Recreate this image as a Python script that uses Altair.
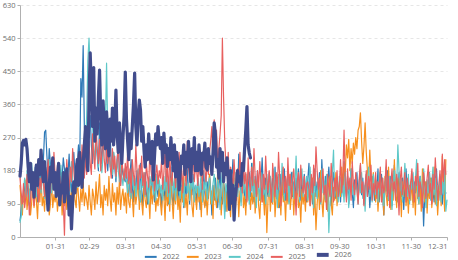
import altair as alt
import pandas as pd

years = ["2022", "2023", "2024", "2025", "2026"]
colors = ["#2f7ab8", "#f7901e", "#5ec8c8", "#e8605f", "#414c8c"]
widths = [1.2, 1.2, 1.2, 1.2, 3.2]

tick_days = [31, 60, 91, 121, 152, 182, 213, 244, 274, 305, 335, 366]
tick_labels = ["01-31", "02-29", "03-31", "04-30", "05-31", "06-30",
               "07-31", "08-31", "09-30", "10-31", "11-30", "12-31"]
y_ticks = [0, 90, 180, 270, 360, 450, 540, 630]

# daily counts, one line per month
y2022 = [
    45, 70, 110, 95, 140, 120, 160, 105, 85, 130, 175, 150, 110, 190, 140, 95, 160, 200, 130, 180, 210, 285, 290, 220, 170, 240, 200, 150, 210, 180, 160,
    120, 175, 200, 140, 95, 160, 215, 185, 130, 100, 170, 225, 150, 120, 195, 230, 170, 140, 205, 250, 190, 430, 380, 520, 300, 260, 220, 240,
    280, 330, 250, 200, 300, 350, 260, 220, 180, 310, 240, 200, 290, 330, 260, 210, 180, 240, 290, 200, 160, 230, 190, 150, 210, 250, 180, 140, 200, 170, 160,
    150, 190, 130, 110, 170, 210, 140, 95, 160, 120, 180, 145, 100, 200, 130, 85, 150, 175, 120, 90, 160, 140, 105, 180, 125, 95, 170, 130, 110, 150,
    120, 80, 160, 135, 100, 175, 140, 90, 130, 190, 110, 85, 150, 120, 170, 100, 140, 95, 165, 125, 80, 145, 110, 185, 130, 90, 150, 115, 170, 105, 140,
    95, 160, 130, 75, 145, 110, 180, 120, 85, 150, 105, 170, 130, 60, 140, 100, 160, 115, 80, 135, 175, 110, 90, 150, 125, 70, 140, 105, 165, 120,
    150, 210, 130, 95, 170, 120, 225, 160, 100, 140, 190, 115, 85, 155, 130, 175, 110, 200, 140, 95, 165, 120, 180, 135, 100, 150, 215, 125, 90, 160, 130,
    110, 175, 140, 95, 160, 125, 190, 105, 150, 130, 80, 170, 140, 115, 185, 100, 145, 165, 95, 130, 175, 110, 150, 90, 160, 125, 185, 140, 100, 155, 120,
    170, 130, 95, 155, 200, 120, 160, 90, 140, 185, 110, 150, 125, 175, 95, 210, 140, 115, 165, 100, 150, 190, 120, 85, 145, 175, 130, 105, 160, 120,
    140, 95, 170, 125, 205, 150, 110, 165, 90, 140, 185, 120, 80, 155, 130, 175, 100, 145, 195, 115, 160, 90, 135, 170, 110, 150, 80, 125, 165, 140, 100,
    155, 120, 185, 95, 140, 170, 110, 60, 150, 125, 180, 100, 140, 165, 85, 130, 195, 120, 150, 95, 175, 130, 110, 160, 75, 140, 185, 115, 150, 100,
    130, 170, 95, 150, 120, 185, 105, 140, 165, 90, 135, 30, 115, 150, 80, 140, 175, 105, 160, 125, 95, 150, 185, 120, 100, 165, 130, 90, 145, 110, 120,
]

y2023 = [
    140, 100, 60, 120, 90, 155, 75, 110, 130, 60, 95, 145, 80, 120, 100, 50, 130, 95, 160, 85, 110, 70, 140, 100, 125, 60, 90, 150, 80, 115, 95,
    130, 70, 105, 90, 145, 60, 115, 85, 135, 75, 100, 155, 90, 120, 65, 140, 100, 80, 160, 110, 70, 130, 95, 150, 85, 120, 100, 75,
    140, 95, 60, 130, 110, 75, 150, 90, 125, 170, 80, 115, 60, 140, 100, 130, 85, 165, 105, 70, 145, 95, 120, 60, 135, 90, 155, 75, 110, 130, 85,
    120, 65, 150, 95, 80, 135, 105, 55, 140, 90, 115, 165, 75, 125, 95, 60, 145, 100, 80, 130, 110, 50, 140, 90, 120, 155, 70, 105, 85, 135,
    95, 60, 130, 110, 45, 140, 85, 120, 70, 160, 100, 50, 125, 90, 145, 75, 110, 40, 135, 95, 165, 80, 115, 60, 140, 100, 205, 85, 55, 130, 105,
    75, 140, 95, 120, 55, 150, 100, 80, 130, 60, 115, 170, 90, 125, 50, 140, 105, 80, 185, 95, 130, 60, 110, 150, 85, 120, 70, 145, 95, 55,
    130, 90, 160, 70, 115, 140, 55, 125, 95, 175, 80, 110, 60, 145, 100, 130, 75, 120, 90, 155, 65, 105, 140, 85, 50, 130, 95, 115, 60, 140, 12,
    100, 145, 70, 120, 90, 160, 55, 110, 135, 80, 125, 60, 150, 95, 115, 45, 130, 90, 170, 75, 110, 140, 60, 125, 95, 150, 80, 105, 40, 130, 90,
    115, 70, 145, 95, 130, 85, 110, 160, 60, 120, 20, 90, 140, 75, 180, 100, 55, 130, 95, 150, 70, 120, 165, 90, 60, 135, 100, 175, 85, 120,
    150, 110, 190, 140, 200, 170, 250, 215, 265, 180, 240, 200, 255, 225, 270, 240, 290, 300, 337, 260, 200, 245, 310, 230, 180, 140, 236, 160, 110, 175, 130,
    95, 150, 70, 125, 180, 100, 140, 60, 165, 115, 85, 190, 130, 75, 145, 100, 210, 120, 80, 160, 95, 135, 55, 150, 110, 175, 85, 125, 65, 140,
    100, 155, 80, 130, 60, 170, 110, 90, 145, 70, 185, 120, 95, 150, 65, 135, 105, 160, 80, 120, 190, 90, 140, 60, 115, 150, 85, 220, 130, 70, 210,
]

y2024 = [
    40, 55, 90, 130, 160, 110, 180, 140, 95, 165, 200, 125, 150, 180, 110, 145, 200, 160, 120, 175, 140, 105, 190, 150, 130, 210, 170, 120, 185, 145, 160,
    130, 175, 110, 150, 195, 140, 115, 170, 125, 185, 140, 100, 160, 205, 150, 120, 175, 190, 135, 160, 215, 180, 150, 200, 170, 240, 330, 480, 540,
    450, 360, 300, 250, 210, 260, 230, 190, 240, 200, 175, 220, 260, 310, 472, 280, 230, 190, 210, 170, 230, 195, 160, 210, 180, 150, 200, 165, 140, 185, 160,
    150, 120, 175, 140, 105, 190, 130, 165, 110, 145, 185, 120, 95, 160, 135, 175, 110, 150, 125, 90, 165, 140, 180, 115, 150, 100, 170, 130, 155, 120,
    140, 100, 165, 125, 185, 110, 150, 90, 135, 175, 120, 160, 100, 145, 190, 130, 105, 160, 140, 85, 150, 175, 120, 145, 100, 165, 130, 155, 95, 140, 120,
    160, 110, 140, 180, 95, 150, 125, 170, 100, 135, 160, 115, 90, 145, 170, 120, 100, 155, 130, 75, 140, 180, 110, 50, 145, 125, 165, 90, 140, 115,
    150, 95, 175, 130, 110, 160, 140, 85, 190, 120, 150, 105, 170, 135, 90, 160, 125, 200, 110, 145, 80, 165, 130, 100, 175, 140, 115, 155, 90, 170, 130,
    110, 165, 140, 95, 185, 125, 150, 80, 170, 135, 110, 200, 145, 100, 160, 125, 180, 90, 150, 130, 175, 105, 140, 220, 120, 160, 95, 145, 185, 110, 150,
    125, 165, 100, 150, 190, 115, 140, 80, 175, 130, 105, 160, 140, 90, 185, 120, 150, 100, 170, 135, 12, 95, 130, 175, 236, 110, 150, 140, 95, 165,
    160, 110, 140, 95, 175, 125, 150, 80, 135, 185, 115, 145, 100, 165, 130, 90, 155, 120, 175, 105, 140, 70, 160, 125, 190, 110, 145, 95, 170, 130, 115,
    150, 95, 175, 130, 110, 160, 85, 140, 190, 120, 100, 165, 135, 75, 150, 180, 115, 140, 250, 180, 125, 160, 95, 145, 200, 130, 110, 170, 90, 150,
    130, 175, 100, 150, 210, 120, 90, 165, 140, 110, 185, 135, 80, 155, 120, 175, 100, 145, 190, 115, 160, 85, 140, 125, 170, 95, 150, 115, 185, 70, 100,
]

y2025 = [
    160, 120, 90, 145, 80, 110, 170, 130, 60, 100, 150, 115, 85, 140, 190, 120, 95, 160, 130, 200, 150, 110, 175, 135, 210, 160, 120, 185, 145, 230, 170,
    140, 195, 120, 165, 110, 150, 95, 5, 140, 210, 160, 125, 190, 150, 240, 180, 135, 200, 160, 225, 175, 145, 250, 190, 160, 215, 170, 230,
    260, 200, 170, 280, 220, 185, 300, 240, 200, 265, 180, 230, 290, 210, 175, 250, 200, 270, 195, 160, 240, 185, 220, 165, 205, 250, 175, 140, 210, 180, 155,
    200, 160, 230, 145, 185, 120, 210, 170, 140, 250, 180, 130, 195, 160, 220, 140, 175, 115, 200, 165, 135, 240, 180, 150, 205, 125, 170, 195, 145, 180,
    160, 210, 130, 175, 240, 150, 190, 120, 220, 165, 140, 250, 180, 135, 200, 160, 230, 145, 185, 120, 215, 175, 140, 260, 190, 155, 210, 170, 235, 150, 195,
    180, 140, 220, 165, 200, 130, 245, 185, 150, 210, 170, 230, 260, 300, 220, 318, 250, 290, 200, 240, 280, 330, 540, 380, 260, 200, 165, 230, 140, 190,
    170, 130, 210, 150, 100, 185, 135, 230, 160, 120, 200, 145, 175, 95, 215, 150, 125, 190, 140, 240, 165, 110, 180, 135, 205, 150, 95, 170, 130, 220, 155,
    120, 180, 140, 95, 200, 150, 110, 175, 130, 230, 160, 85, 145, 190, 120, 165, 100, 215, 140, 170, 105, 155, 185, 125, 60, 150, 175, 110, 195, 140, 120,
    165, 100, 145, 150, 130, 85, 170, 120, 195, 140, 245, 180, 130, 160, 95, 150, 185, 115, 140, 75, 170, 130, 110, 200, 145, 95, 160, 125, 180, 110,
    140, 210, 120, 170, 290, 150, 95, 185, 130, 160, 100, 205, 145, 115, 175, 130, 90, 160, 200, 120, 150, 85, 140, 180, 110, 165, 130, 195, 100, 145, 120,
    175, 105, 150, 130, 190, 95, 160, 120, 140, 210, 110, 165, 80, 145, 185, 125, 150, 100, 170, 135, 60, 155, 190, 115, 140, 175, 95, 160, 130, 105,
    150, 185, 120, 95, 165, 140, 200, 110, 150, 130, 80, 175, 140, 105, 160, 195, 120, 145, 90, 170, 130, 215, 155, 100, 140, 180, 115, 225, 150, 210, 170,
]

y2026 = [
    165, 200, 255, 262, 250, 265, 240, 190, 150, 200, 130, 175, 108, 160, 195, 140, 210, 170, 236, 180, 150, 205, 165, 120, 73, 140, 190, 150, 215, 130, 175,
    110, 160, 200, 87, 140, 120, 175, 95, 150, 185, 130, 60, 110, 22, 95, 150, 120, 180, 210, 140, 230, 175, 135, 200, 250, 300, 220, 180,
    380, 500, 400, 300, 460, 260, 350, 280, 380, 453, 330, 250, 370, 300, 240, 340, 280, 220, 320, 260, 350, 250, 300, 399, 280, 230, 310, 250, 200, 270, 330,
    448, 320, 260, 210, 280, 240, 300, 360, 445, 300, 250, 330, 372, 345, 260, 300, 236, 190, 250, 210, 280, 230, 200, 260, 155, 220, 280, 250, 300, 260,
    240, 270, 200, 282, 230, 250, 191, 240, 210, 270, 218, 180, 250, 163, 230, 200, 128, 180, 220, 200, 250, 170, 230, 190, 260, 210, 150, 240, 200, 270, 180,
    230, 180, 250, 200, 170, 228, 210, 255, 190, 182, 240, 200, 217, 170, 230, 310, 280, 190, 210, 160, 240, 180, 230, 150, 200, 170, 215, 155, 75, 180,
    92, 140, 46, 110, 136, 180, 150, 163, 140, 200, 180, 240, 290, 354, 250, 228, 215,
]

rows = []
for yr, w, vals in zip(years, widths, [y2022, y2023, y2024, y2025, y2026]):
    for i, v in enumerate(vals):
        rows.append({"day": i + 1, "value": v, "year": yr, "w": w})
df = pd.DataFrame(rows)

label_expr = (
    "[" + ",".join(f"'{s}'" for s in tick_labels) + "]"
    + "[indexof([" + ",".join(str(d) for d in tick_days) + "], datum.value)]"
)

FONT = "Open Sans"
GREY = "#6e6e6e"

chart = (
    alt.Chart(df)
    .mark_line(strokeJoin="round", strokeCap="round")
    .encode(
        x=alt.X(
            "day:Q",
            scale=alt.Scale(domain=[1, 366], nice=False, zero=False),
            axis=alt.Axis(
                values=tick_days, labelExpr=label_expr, title=None, grid=False,
                domainColor="#b0b0b0", tickColor="#b0b0b0", tickSize=3,
                labelColor=GREY, labelFontSize=7.5, labelFont=FONT,
                labelPadding=2,
            ),
        ),
        y=alt.Y(
            "value:Q",
            scale=alt.Scale(domain=[0, 630], nice=False),
            axis=alt.Axis(
                values=y_ticks, title=None, grid=True, gridColor="#e6e6e6",
                gridDash=[3, 3], domainColor="#b0b0b0", tickColor="#b0b0b0",
                tickSize=3, labelColor=GREY, labelFontSize=7.5,
                labelFont=FONT, labelPadding=2,
            ),
        ),
        color=alt.Color(
            "year:N",
            scale=alt.Scale(domain=years, range=colors),
            legend=alt.Legend(
                title=None, orient="none", direction="horizontal",
                legendX=127, legendY=246, symbolType="stroke",
                symbolSize=140,
                symbolStrokeWidth=alt.ExprRef("datum.value == '2026' ? 4 : 2"),
                labelFontSize=7.5, labelFont=FONT, labelColor=GREY,
                columnPadding=2, labelOffset=8,
            ),
        ),
        strokeWidth=alt.StrokeWidth("w:Q", scale=None),
    )
    .properties(
        width=427,
        height=232,
        padding={"left": 20, "top": 5, "right": 11, "bottom": 23},
        autosize=alt.AutoSizeParams(type="none"),
    )
    .configure_view(stroke=None)
)

chart.save("out.html", embed_options={"renderer": "svg", "actions": False})
